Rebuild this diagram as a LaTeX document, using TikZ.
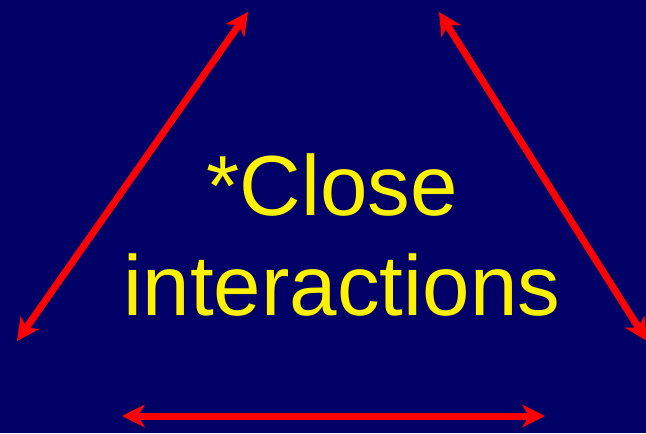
\documentclass[tikz,border=0pt]{standalone}
\usepackage{fontspec}
\setmainfont{Liberation Sans}
\usetikzlibrary{arrows.meta}

\definecolor{slidenavy}{RGB}{0,0,102}

\begin{document}
\begin{tikzpicture}[
    x=0.75pt, y=-0.75pt,
    link/.style={draw=red, line width=5.25pt, {Stealth[length=17pt, width=17pt, inset=5pt]}-{Stealth[length=17pt, width=17pt, inset=5pt]}},
    bigtext/.style={text=yellow, inner sep=0pt, anchor=base, font=\fontsize{64}{75}\selectfont}
]

% --- Hintergrund ---
\fill[slidenavy] (0,0) rectangle (646,433);
\useasboundingbox (0,0) rectangle (646,433);

% --- Endpunkte der Pfeile ---
\coordinate (leftlow) at (17,341);
\coordinate (lefttop) at (248,12);
\coordinate (righttop) at (439,12);
\coordinate (rightlow) at (647,341);
\coordinate (bottomleft) at (122,416);
\coordinate (bottomright) at (545,416);

% --- Pfeile ---
\draw[link] (leftlow) -- (lefttop);
\draw[link] (righttop) -- (rightlow);
\draw[link] (bottomleft) -- (bottomright);

% --- Text ---
\node[bigtext] (line1) at (332,215) {*Close};
\node[bigtext] (line2) at (342,315) {interactions};
\end{tikzpicture}
\end{document}
